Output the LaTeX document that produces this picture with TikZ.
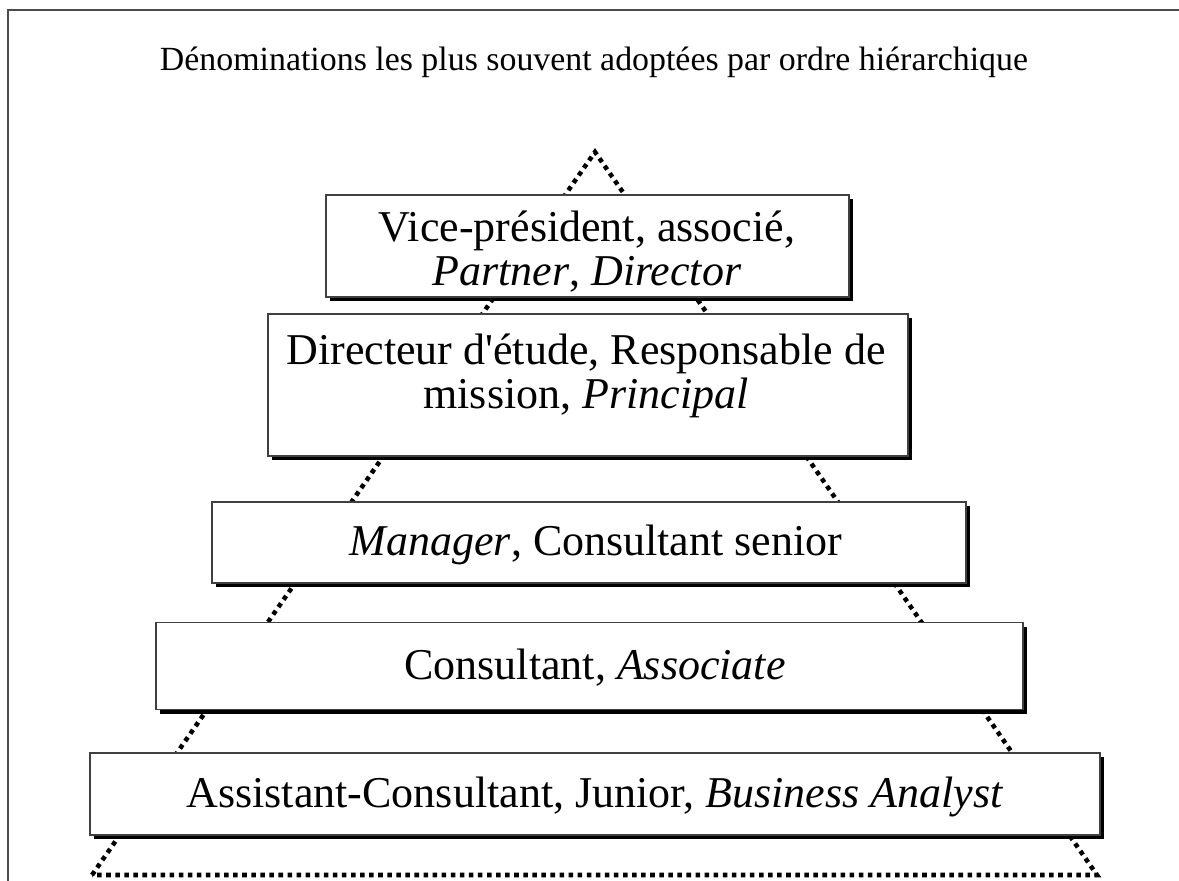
\documentclass[tikz,border=0pt]{standalone}
\usepackage{fontspec}
\setmainfont{Liberation Serif}[Ligatures=TeXOff]
\usetikzlibrary{shadows}
\begin{document}
\begin{tikzpicture}[x=0.75pt,y=-0.75pt,
  frameline/.style={draw=black!70,line width=1.2pt},
  dotline/.style={line width=3.4pt,dash pattern=on 3.4pt off 3.4pt,line cap=butt},
  levelbox/.style={draw=black!75,line width=0.9pt,fill=white,inner sep=0pt,
    drop shadow={shadow xshift=3pt,shadow yshift=-3pt,opacity=1,fill=black}},
  boxtext/.style={font=\fontsize{33}{33}\selectfont,align=center,inner sep=0pt},
  titletext/.style={font=\fontsize{25.4}{30}\selectfont,inner sep=0pt}]
\useasboundingbox (0,0) rectangle (1179,881);
% frame
\coordinate (fTL) at (8,10);
\coordinate (fTR) at (1179,10);
\coordinate (fBL) at (8,881);
\draw[frameline] (fTR) -- (fTL) -- (fBL);
% title
\node[titletext] (title) at (594,62) {Dénominations les plus souvent adoptées par ordre hiérarchique};
% triangle
\coordinate (apex) at (595,152);
\coordinate (baseL) at (92,875);
\coordinate (baseR) at (1097,875);
\draw[dotline] (baseL) -- (apex) -- (baseR) -- cycle;
% boxes
\node[levelbox,minimum width=523*0.75pt,minimum height=102*0.75pt] (b1) at (587.5,246) {};
\node[levelbox,minimum width=640*0.75pt,minimum height=142*0.75pt] (b2) at (588,385) {};
\node[levelbox,minimum width=754*0.75pt,minimum height=81*0.75pt] (b3) at (589,542.5) {};
\node[levelbox,minimum width=867*0.75pt,minimum height=87*0.75pt] (b4) at (589.5,666) {};
\node[levelbox,minimum width=1010*0.75pt,minimum height=82*0.75pt] (b5) at (595,794) {};
% texts
\node[boxtext] (t1) at (587,252) {Vice-président, associé,\\ \textit{Partner}, \textit{Director}};
\node[boxtext] (t2) at (586,376) {Directeur d'étude, Responsable de\\ mission, \textit{Principal}};
\node[boxtext] (t3) at (596,545) {\textit{Manager}, Consultant senior};
\node[boxtext] (t4) at (595,668) {Consultant, \textit{Associate}};
\node[boxtext] (t5) at (595,797) {Assistant-Consultant, Junior, \textit{Business Analyst}};
\end{tikzpicture}
\end{document}
